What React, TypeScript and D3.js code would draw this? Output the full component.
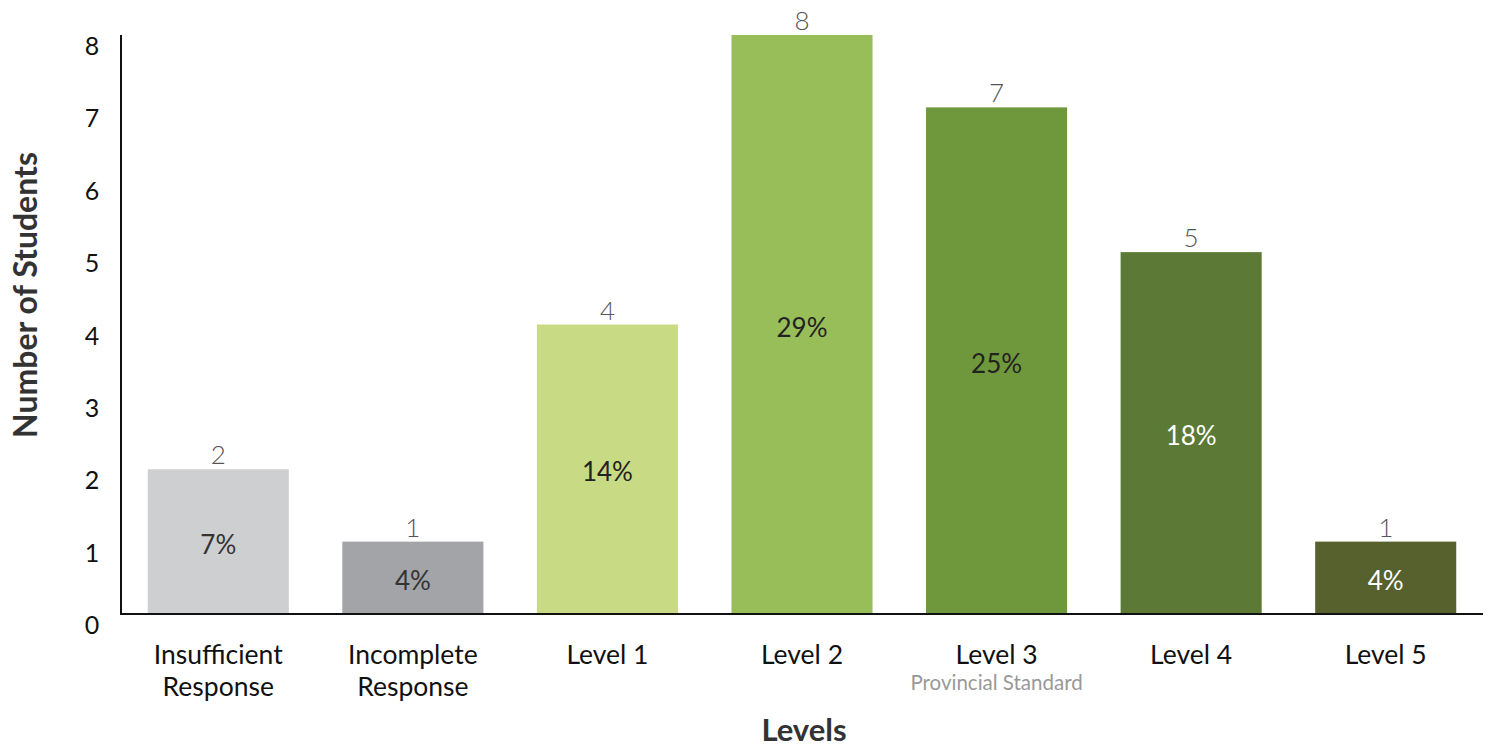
import React from "react";
import * as d3 from "d3";

const categories = ["Insufficient Response", "Incomplete Response", "Level 1", "Level 2", "Level 3", "Level 4", "Level 5"];
const categoryLines = [["Insufficient", "Response"], ["Incomplete", "Response"], ["Level 1"], ["Level 2"], ["Level 3"], ["Level 4"], ["Level 5"]];
const counts = [2, 1, 4, 8, 7, 5, 1];
const percents = ["7%", "4%", "14%", "29%", "25%", "18%", "4%"];
const colors = ["#cdcfd1", "#a3a4a7", "#c8db84", "#98be5a", "#6f983c", "#5c7a35", "#56612e"];
const pctColors = ["#333333", "#333333", "#222222", "#222222", "#222222", "#ffffff", "#ffffff"];
const yTicks = [0, 1, 2, 3, 4, 5, 6, 7, 8];

const W = 1493;
const H = 748;
const left = 121;
const right = 1483;
const top = 35;
const bottom = 614;
const font = "Lato, 'Open Sans', sans-serif";

export default function App() {
  const x = d3.scaleBand<string>().domain(categories).range([left, right]).paddingInner(0.275).paddingOuter(0.1375);
  const y = d3.scaleLinear().domain([0, 8]).range([bottom, top]);

  return (
    <svg width={W} height={H} style={{ position: "absolute", left: 0, top: 0, background: "#fff" }} fontFamily={font}>
      {categories.map((c, i) => {
        const bx = x(c)!;
        const bw = x.bandwidth();
        const yt = y(counts[i]);
        const cx = bx + bw / 2;
        return (
          <g key={c}>
            <rect x={bx} y={yt} width={bw} height={bottom - yt} fill={colors[i]} />
            <text x={cx} y={yt - 5} textAnchor="middle" fontSize={26} fontWeight={300} fill="#555">{counts[i]}</text>
            <text x={cx} y={(yt + bottom) / 2 + 12} textAnchor="middle" fontSize={26} fill={pctColors[i]}>{percents[i]}</text>
            {categoryLines[i].map((ln, j) => (
              <text key={j} x={cx} y={664 + j * 32} textAnchor="middle" fontSize={26.5} fill="#111">{ln}</text>
            ))}
          </g>
        );
      })}
      <text x={x("Level 3")! + x.bandwidth() / 2} y={690} textAnchor="middle" fontSize={20.5} fill="#999">Provincial Standard</text>
      {yTicks.map((t) => (
        <text key={t} x={92} y={y(t) + 20} textAnchor="middle" fontSize={25} fill="#111">{t}</text>
      ))}
      <line x1={left} y1={top} x2={left} y2={bottom + 1} stroke="#111" strokeWidth={2} />
      <line x1={left} y1={bottom} x2={right} y2={bottom} stroke="#111" strokeWidth={2} />
      <text x={804} y={741} textAnchor="middle" fontSize={31} fontWeight={700} fill="#333">Levels</text>
      <text transform={`translate(37, ${295}) rotate(-90)`} textAnchor="middle" fontSize={32} fontWeight={700} fill="#333">Number of Students</text>
    </svg>
  );
}
